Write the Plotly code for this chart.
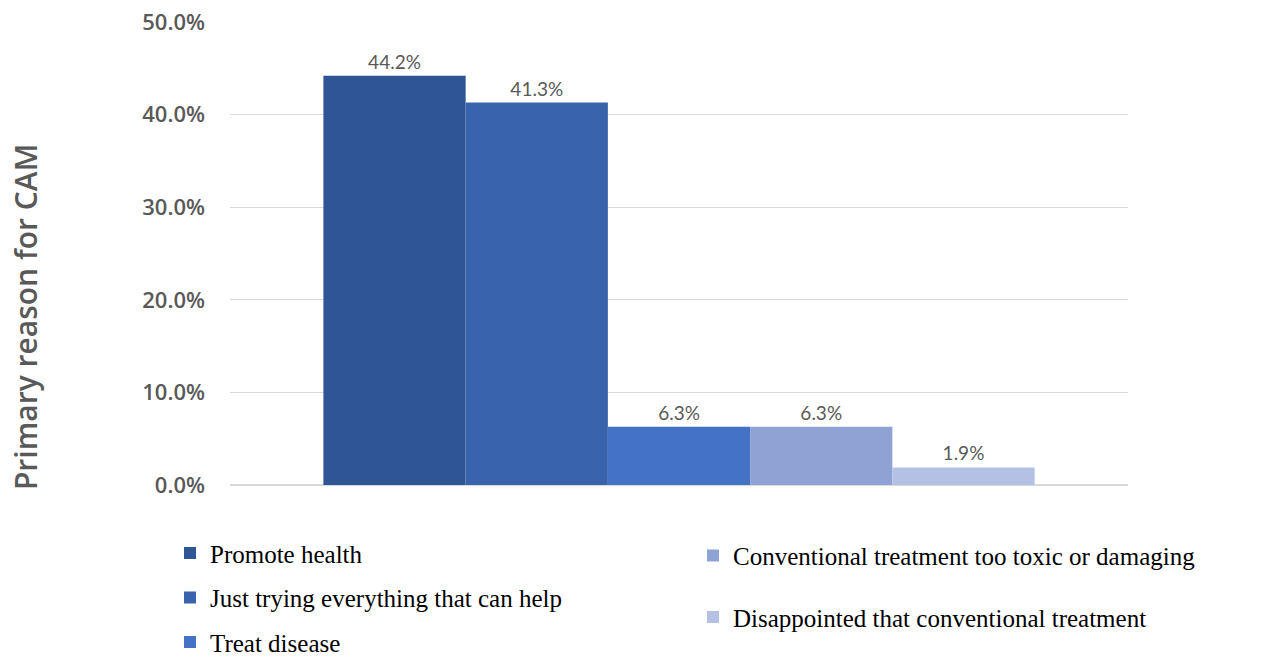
import plotly.graph_objects as go

categories = ["Primary reason for CAM"]
series_names = [
    "Promote health",
    "Just trying everything that can help",
    "Treat disease",
    "Conventional treatment too toxic or damaging",
    "Disappointed that conventional treatment",
]
series_values = [0.442, 0.413, 0.063, 0.063, 0.019]
colors = ["#2F5597", "#3A63AD", "#4472C4", "#8FA2D4", "#B4C0E4"]
legend_ids = ["legend", "legend", "legend", "legend2", "legend2"]
tick_vals = [0, 0.1, 0.2, 0.3, 0.4, 0.5]
tick_text = ["0.0%", "10.0%", "20.0%", "30.0%", "40.0%", "50.0%"]

fig = go.Figure()
for i, (name, val, col, lg) in enumerate(zip(series_names, series_values, colors, legend_ids)):
    fig.add_trace(go.Bar(
        x=categories, y=[val], name=name,
        marker=dict(color=col, line=dict(width=0)),
        text=[f"{val*100:.1f}%"], textposition="outside",
        textfont=dict(family="Lato", size=19, color="#595959"),
        cliponaxis=False, legend=lg, legendgroup=name,
    ))

fig.update_layout(
    width=1263, height=657,
    margin=dict(l=230, r=135, t=22, b=172, autoexpand=False),
    plot_bgcolor="white", paper_bgcolor="white",
    barmode="group", bargap=0.208, bargroupgap=0,
    xaxis=dict(showticklabels=False, showgrid=False, zeroline=False, showline=False),
    yaxis=dict(range=[0, 0.5], tickvals=tick_vals, ticktext=tick_text,
               showgrid=True, gridcolor="#D9D9D9", gridwidth=1,
               zeroline=True, zerolinecolor="#D9D9D9", showline=False,
               ticklabelstandoff=24,
               tickfont=dict(family="Open Sans", size=22, color="#595959", weight=600)),
    legend=dict(xref="container", yref="container", x=0.1346, y=0.193,
                xanchor="left", yanchor="top",
                orientation="v", font=dict(family="Liberation Serif", size=25, color="#000000"),
                tracegroupgap=9, bgcolor="rgba(0,0,0,0)"),
    legend2=dict(xref="container", yref="container", x=0.5487, y=0.189,
                 xanchor="left", yanchor="top",
                 orientation="v", font=dict(family="Liberation Serif", size=25, color="#000000"),
                 tracegroupgap=26, bgcolor="rgba(0,0,0,0)"),
    showlegend=True,
)
fig.add_annotation(
    text="Primary reason for CAM", textangle=-90,
    xref="paper", yref="paper", x=-0.227, y=0.363, xanchor="center", yanchor="middle",
    showarrow=False, font=dict(family="Open Sans", size=30, color="#595959", weight=600),
)
fig.write_html("out.html")
